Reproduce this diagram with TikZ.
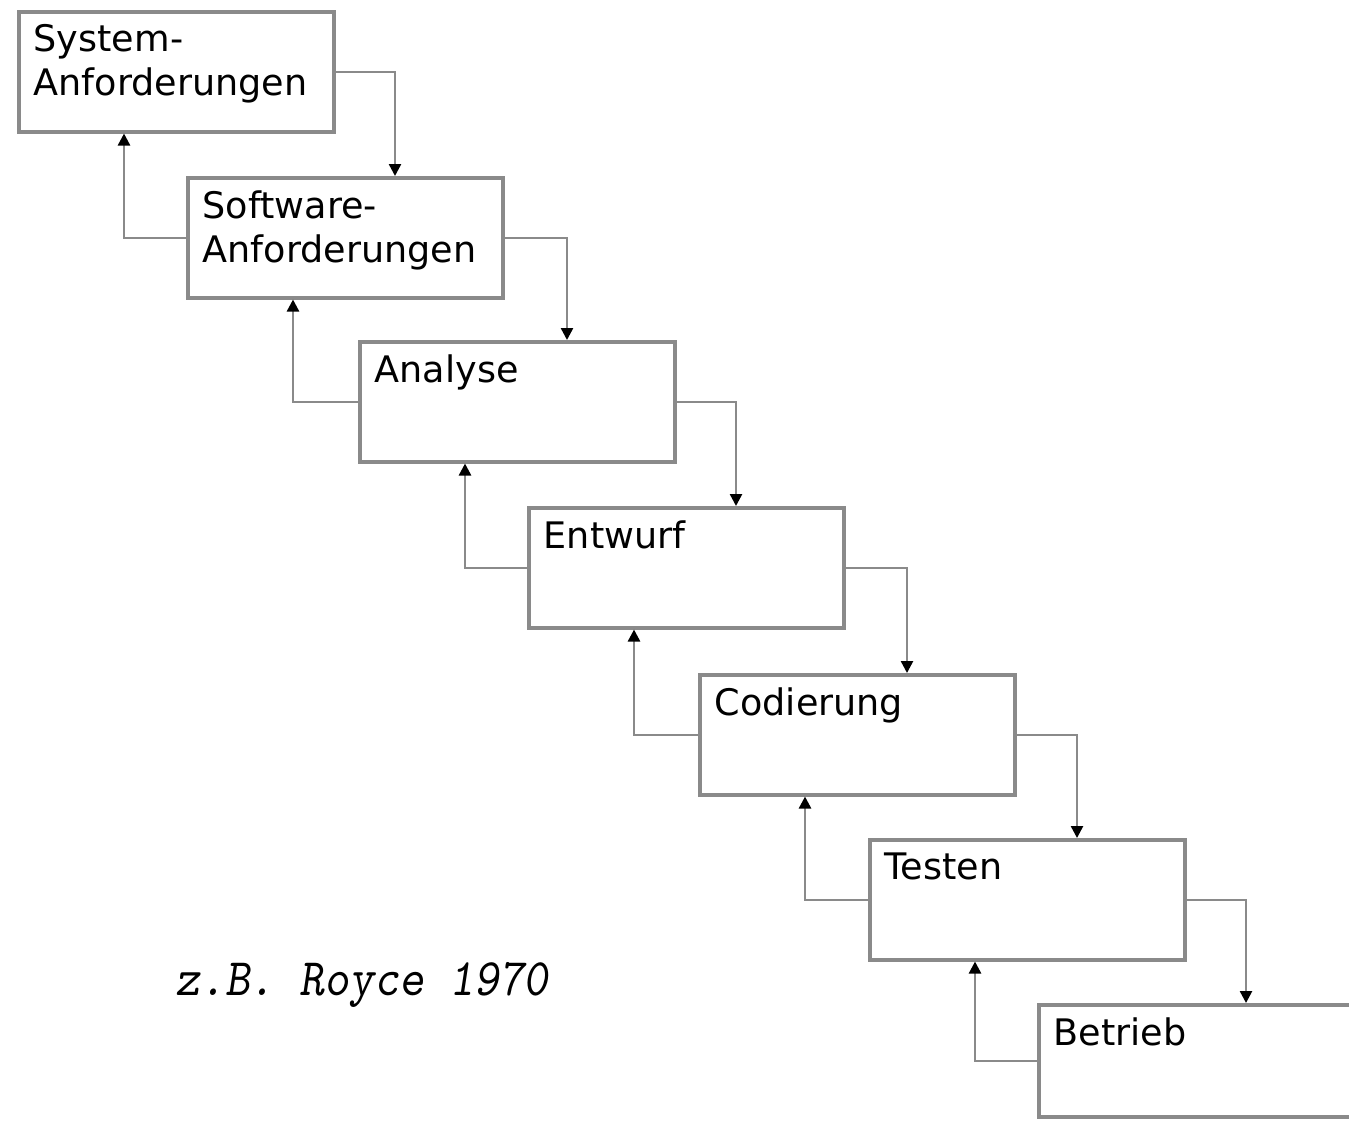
\documentclass[tikz,border=0pt]{standalone}
\usepackage{fontspec}
\setmainfont{DejaVu Sans}
\usepackage{xcolor}
\usetikzlibrary{arrows.meta, positioning, calc}
\definecolor{boxgray}{HTML}{8A8A8A}
\newcommand{\stagetxt}[2][0.94cm]{\parbox[t][#1][t]{2.85cm}{\raggedright #2}}
\tikzset{
  stage/.style={draw=boxgray, line width=1pt, anchor=north west, inner xsep=0.15cm,
    inner ysep=0.13cm, font=\fontsize{10.4}{12.4}\selectfont, minimum width=3.15cm},
  flow/.style={draw=boxgray, line width=0.7pt, -{Triangle[length=0.12cm,width=0.12cm,color=black]}}
}

\begin{document}
\begin{tikzpicture}
  \useasboundingbox (0,0) rectangle (13.49,-11.2);
  \node[stage] (b1) at (0.17,-0.10)  {\stagetxt{System-\\Anforderungen}};
  \node[stage] (b2) at (1.86,-1.76)  {\stagetxt{Software-\\Anforderungen}};
  \node[stage] (b3) at (3.58,-3.40)  {\stagetxt{Analyse}};
  \node[stage] (b4) at (5.27,-5.06)  {\stagetxt{Entwurf}};
  \node[stage] (b5) at (6.98,-6.73)  {\stagetxt{Codierung}};
  \node[stage] (b6) at (8.68,-8.38)  {\stagetxt{Testen}};
  \node[stage] (b7) at (10.37,-10.03) {\stagetxt[0.86cm]{Betrieb}};
  % Pfeile abwaerts und zurueck
  \foreach \i [evaluate=\i as \j using int(\i+1)] in {1,...,6}{
    \draw[flow] (b\i.east) -| ([xshift=2.09cm]b\j.north west);
    \draw[flow] (b\j.west) -| ([xshift=1.07cm]b\i.south west);
  }
  \node[font=\ttfamily\slshape\fontsize{15}{15}\selectfont, xscale=0.9, transform shape]
    (royce) at (3.62,-9.85) {z.B. Royce 1970};
\end{tikzpicture}
\end{document}
